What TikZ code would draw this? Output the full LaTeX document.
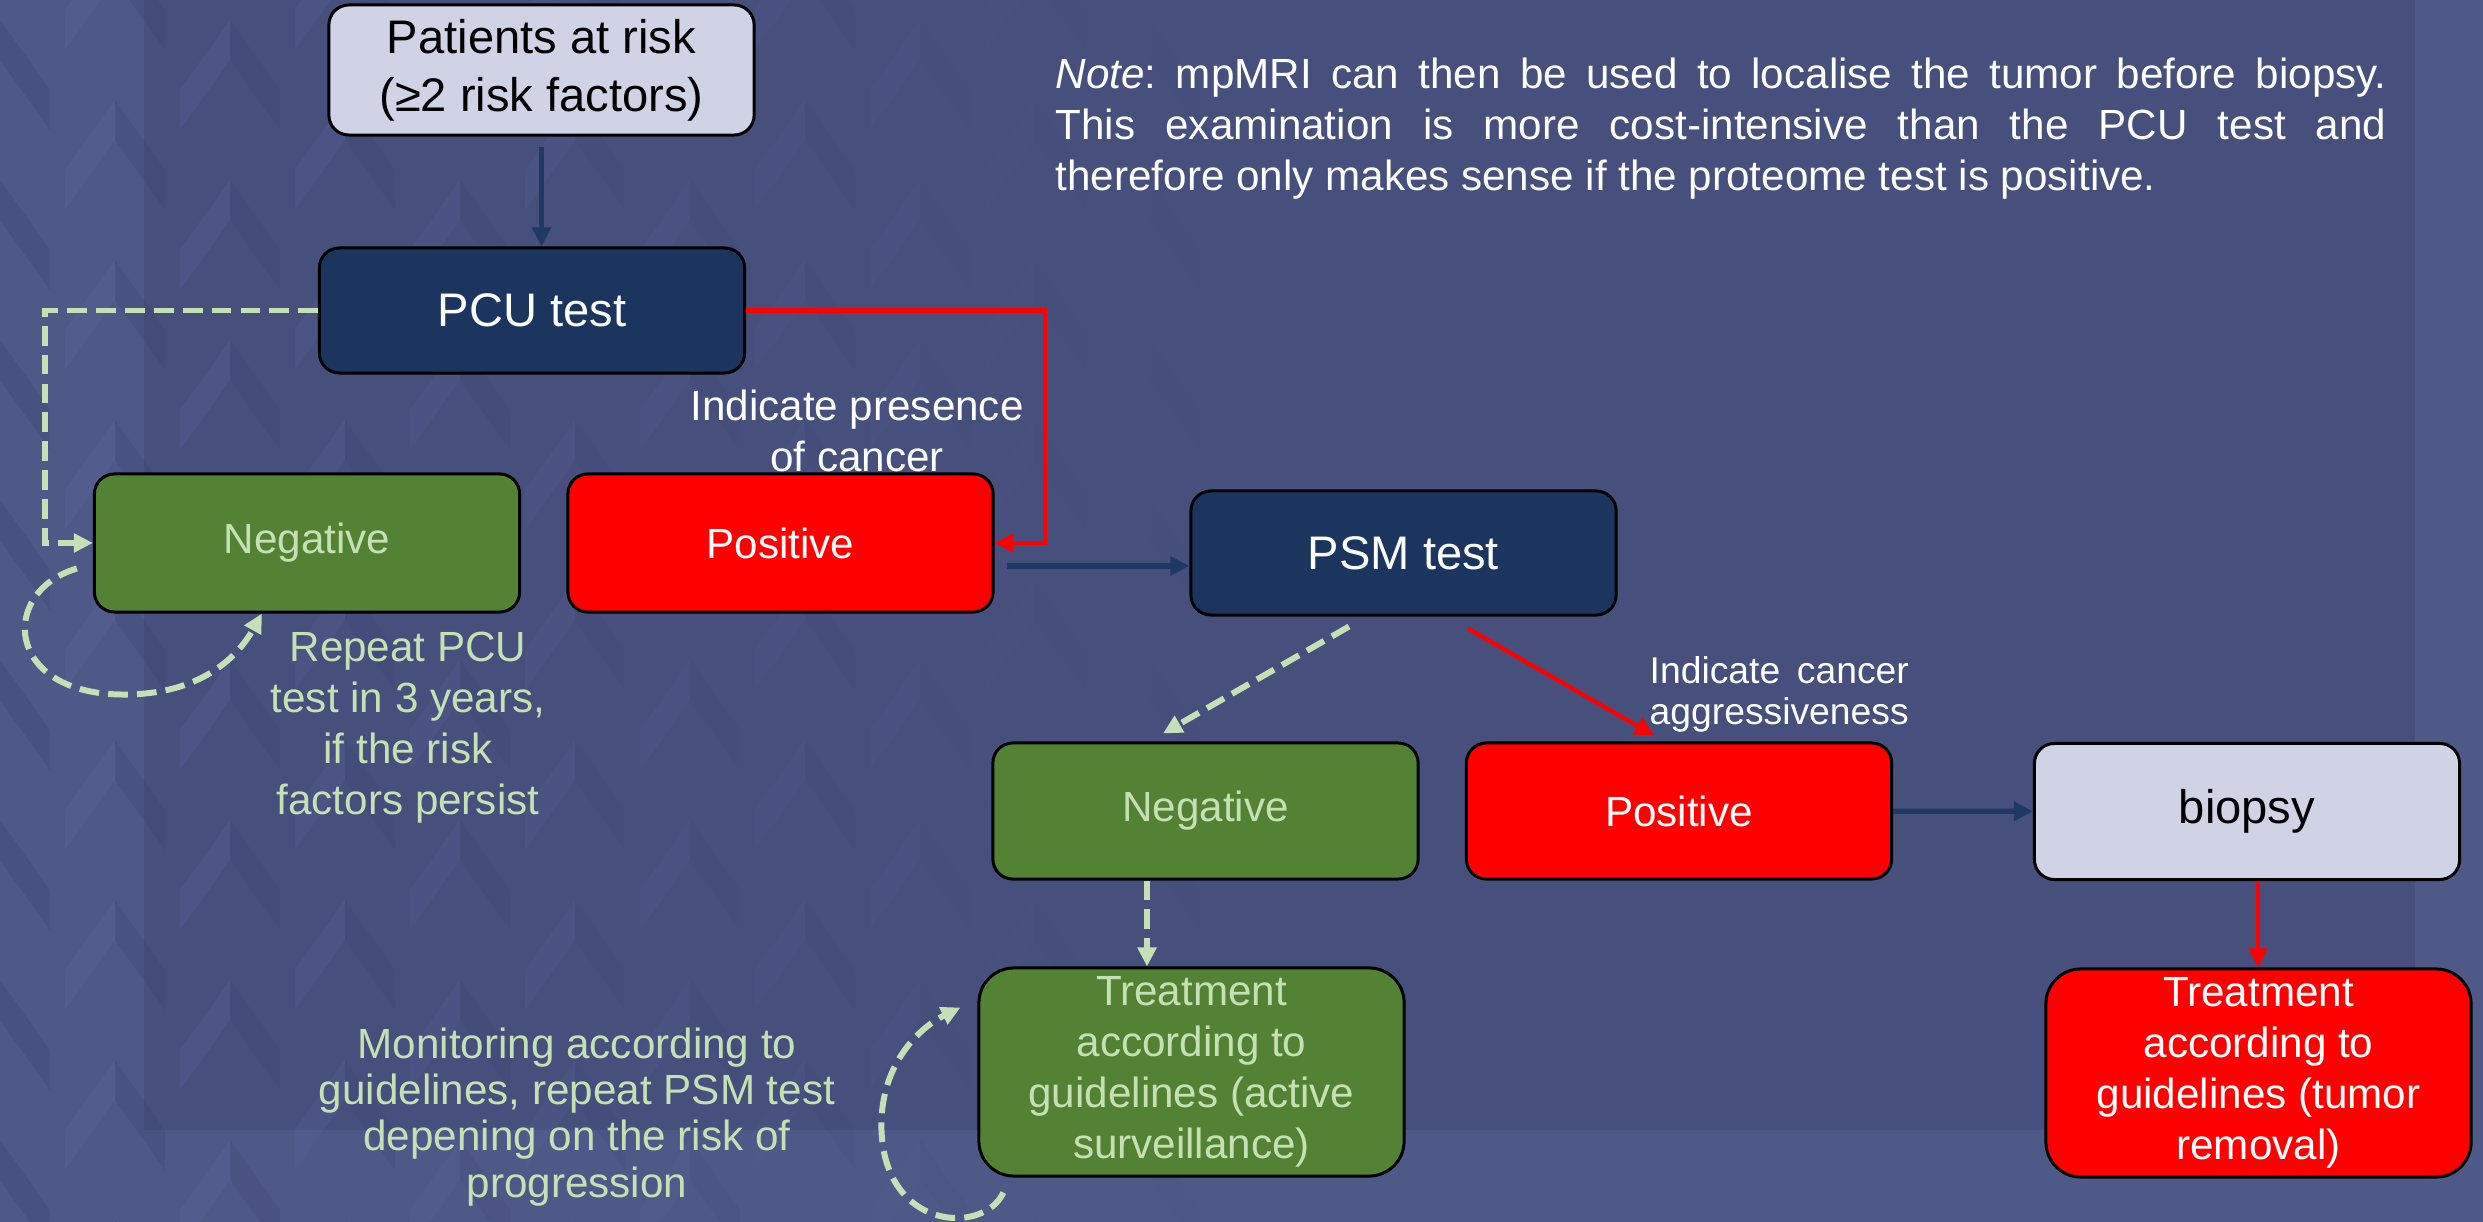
\documentclass[tikz,border=0pt]{standalone}
\usepackage{fontspec}
\setmainfont{Liberation Sans}
\usepackage{xcolor}
\usetikzlibrary{arrows.meta,positioning,calc}

\definecolor{slidebg}{HTML}{474F7D}
\definecolor{slideedge}{HTML}{4F5987}
\definecolor{chevlight}{HTML}{5C69A0}
\definecolor{chevdark}{HTML}{3B4371}
\definecolor{navybox}{HTML}{1C355E}
\definecolor{navyline}{HTML}{203864}
\definecolor{lavender}{HTML}{D0D2E6}
\definecolor{leafgreen}{HTML}{548235}
\definecolor{palegreen}{HTML}{C5E0B4}

\begin{document}
\begin{tikzpicture}[
    x=0.01cm, y=-0.01cm,
    box/.style = {draw=black, line width=0.85pt, rounded corners=0.2cm, minimum width=4.25cm, minimum height=1.36cm, inner sep=0pt, align=center},
    bigtext/.style = {font=\fontsize{13.4}{16.5}\selectfont},
    normtext/.style = {font=\fontsize{12}{14.5}\selectfont},
    riskbox/.style = {box, fill=lavender, text=black, bigtext},
    testbox/.style = {box, fill=navybox, text=white, bigtext},
    negbox/.style = {box, fill=leafgreen, text=palegreen, normtext},
    posbox/.style = {box, fill=red, text=white, normtext},
    treatbox/.style = {rounded corners=0.35cm, minimum height=2.08cm},
    sidenote/.style = {text=palegreen, align=center, inner sep=0pt},
    navyarrow/.style = {line width=1.5pt, navyline, -{Triangle[length=5.4pt, width=5.2pt]}},
    redarrow/.style = {line width=1.2pt, red, -{Triangle[length=5.4pt, width=5.2pt]}},
    greenarrow/.style = {line width=1.7pt, palegreen, dash pattern=on 5.6pt off 2.6pt, -{Triangle[length=5.4pt, width=5.2pt]}}
]
    % background
    \useasboundingbox (0,0) rectangle (2483,1222);
    \fill[slideedge] (0,0) rectangle (2483,1222);
    \fill[slidebg] (144,0) rectangle (2415,1130);
    \foreach \cx in {0,115,...,1150} {
        \pgfmathsetmacro{\op}{0.3*(1-\cx/1250)}
        \pgfmathsetmacro{\dy}{mod(\cx/115,2)*80}
        \foreach \cy in {-140,20,...,1300} {
            \fill[chevlight, opacity=\op] (\cx-50,\cy+\dy+70) -- (\cx,\cy+\dy) -- (\cx,\cy+\dy+40) -- (\cx-50,\cy+\dy+110) -- cycle;
            \fill[chevdark, opacity=\op] (\cx,\cy+\dy) -- (\cx+50,\cy+\dy+70) -- (\cx+50,\cy+\dy+110) -- (\cx,\cy+\dy+40) -- cycle;
        }
    }

    \node[riskbox, minimum height=1.3cm] (risk) at (541.5,70) {Patients at risk\\(≥2 risk factors)};
    \node[testbox, minimum height=1.25cm] (pcu) at (532,310.5) {PCU test};
    \node[negbox, minimum height=1.38cm] (neg1) at (307,543) {Negative};
    \node[posbox, minimum height=1.38cm] (pos1) at (780.5,543) {Positive};
    \node[testbox, minimum height=1.24cm] (psm) at (1403.5,553) {PSM test};
    \node[negbox] (neg2) at (1205.5,811) {Negative};
    \node[posbox] (pos2) at (1679,811) {Positive};
    \node[riskbox] (biopsy) at (2247,811.5) {biopsy};
    \node[negbox, treatbox] (treat1) at (1191.5,1072) {Treatment\\according to\\guidelines (active\\surveillance)};
    \node[posbox, treatbox] (treat2) at (2258.5,1073) {Treatment\\according to\\guidelines (tumor\\removal)};

    \node[sidenote, normtext] (repeat) at (408,728) {Repeat PCU\\test in 3 years,\\if the risk\\factors persist};
    \node[sidenote, font=\fontsize{12}{13.1}\selectfont] (monitor) at (577,1117) {Monitoring according to\\guidelines, repeat PSM test\\depening on the risk of\\progression};
    \node[white, normtext, align=center, inner sep=0pt, anchor=north] (presence) at (857,389) {Indicate presence\\of cancer};
    \node[white, font=\fontsize{10.6}{11.7}\selectfont, align=left, inner sep=0pt, anchor=north west] (aggr) at (1649,656) {\makebox[2.59cm][s]{Indicate cancer}\\aggressiveness};
    \node[white, normtext, text width=13.3cm, align=justify, inner sep=0pt, anchor=north west] (mri) at (1055,57)
        {\frenchspacing\textit{Note}: mpMRI can then be used to localise the tumor before biopsy.\linebreak
         This examination is more cost-intensive than the PCU test and\linebreak
         therefore only makes sense if the proteome test is positive.};

    \coordinate (mid1) at ($(pos1.east)+(12,23)$);
    \coordinate (drop) at ($(neg2.south)+(-58.5,0)$);
    \coordinate (cut) at ($(biopsy.south)+(11,0)$);

    \draw[navyarrow, shorten <=0.1cm] (risk.south) -- (risk.south |- pcu.north);
    \draw[redarrow] (pcu.east) -| ([xshift=0.5cm]pos1.east) -- (pos1.east);
    \draw[greenarrow] (pcu.west) -| ([xshift=-0.48cm]neg1.west) -- (neg1.west);
    \draw[greenarrow] ($(neg1.south west)+(-16,-45)$) .. controls +(-78,23) and +(-120,0) .. ($(neg1.south west)+(31,81)$) .. controls +(75,0) and +(-25,45) .. ($(neg1.south west)+(169,0)$);
    \draw[navyarrow] (mid1) -- (mid1 -| psm.west);
    \draw[greenarrow] ([shift={(-54.5,10)}]psm.south) -- ([shift={(-42.5,-8)}]neg2.north);
    \draw[redarrow] ([shift={(64.5,12)}]psm.south) -- ([shift={(-25,-6)}]pos2.north);
    \draw[navyarrow] (pos2) -- (biopsy);
    \draw[greenarrow] (drop) -- (drop |- treat1.north);
    \draw[redarrow] (cut) -- (cut |- treat2.north);
    \draw[greenarrow] ($(treat1.south west)+(26,15)$) .. controls +(-20,43) and +(2,103) .. ($(treat1.south west)+(-96,-50)$) .. controls +(-1,-67) and +(-37,18) .. ($(treat1.south west)+(-17,-170)$);
\end{tikzpicture}
\end{document}
